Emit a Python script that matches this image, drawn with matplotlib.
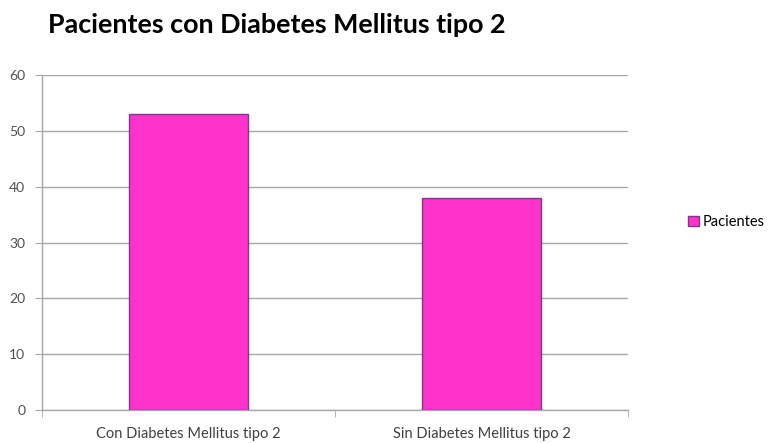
import matplotlib
matplotlib.use("Agg")
import matplotlib.pyplot as plt
import numpy as np

categories = ["Con Diabetes Mellitus tipo 2", "Sin Diabetes Mellitus tipo 2"]
pacientes = [53, 38]
series_name = "Pacientes"
title = "Pacientes con Diabetes Mellitus tipo 2"

plt.rcParams['font.family'] = ['Lato', 'DejaVu Sans']

fig = plt.figure(figsize=(7.68, 4.43), dpi=100)
ax = fig.add_axes([0.0547, 0.0745, 0.763, 0.756])

x = np.arange(len(categories))
ax.bar(x, pacientes, width=0.406, color="#FF33CC", edgecolor="#7A3A8A",
       linewidth=1.0, label=series_name, zorder=3)

ax.set_xlim(-0.5, len(categories) - 0.5)
ax.set_ylim(0, 60)
ax.set_yticks(range(0, 61, 10))
ax.yaxis.grid(True, color="#A8A8A8", linewidth=1.0, zorder=0)

ax.set_xticks(x)
ax.set_xticklabels(categories, fontsize=10.5, color="#404040")
ax.tick_params(axis="x", length=0, pad=12)
# tick marks at category boundaries
ax.set_xticks(np.arange(-0.5, len(categories), 1.0), minor=True)
ax.tick_params(axis="x", which="minor", length=5, color="#A8A8A8")
ax.tick_params(axis="y", length=5, color="#A8A8A8", labelsize=10,
               labelcolor="#505050", pad=7)

for side in ["top", "right"]:
    ax.spines[side].set_visible(False)
for side in ["left", "bottom"]:
    ax.spines[side].set_color("#A8A8A8")
    ax.spines[side].set_linewidth(1.0)

fig.text(48 / 768, 1 - 25 / 443, title, fontsize=19.4, fontweight="bold",
         color="#000000", ha="left", va="center")

leg = fig.legend(loc="center left", bbox_to_anchor=(688 / 768, 1 - 222 / 443),
                 frameon=False, fontsize=10.5, handlelength=0.75,
                 handleheight=0.75, handletextpad=0.25, borderaxespad=0,
                 borderpad=0)

fig.savefig("out.png", dpi=100)
